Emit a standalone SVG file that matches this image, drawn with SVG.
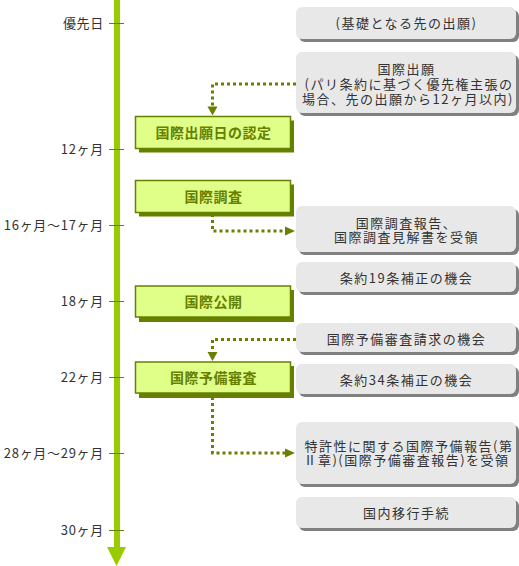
<svg xmlns="http://www.w3.org/2000/svg" width="519" height="566" viewBox="0 0 519 566">
<style>
text{font-family:"Noto Sans CJK JP","Liberation Sans",sans-serif;font-size:13px}
.lbl{fill:#333;text-anchor:end;letter-spacing:0.7px}
.gt{fill:#333;text-anchor:middle;letter-spacing:1.5px}
.nt{fill:#668000;font-weight:bold;text-anchor:middle;font-size:14px;letter-spacing:0.5px}
.gbox{fill:#e8e8e8}
.gsh{fill:#808080}
.nbox{fill:#e0ff88;stroke:#668000;stroke-width:1.5}
.nsh{fill:#668000}
.tick{stroke:#668000;stroke-width:1}
.dot{fill:none;stroke:#668000;stroke-width:3;stroke-dasharray:3 3}
.ah{fill:#668000}
</style>
<g id="timeline">
<rect x="114" y="0" width="6" height="548" fill="#99cc00"/>
<polygon points="107,547 126,547 116.5,566" fill="#99cc00"/>
<line class="tick" x1="109" y1="23.5" x2="124" y2="23.5"/>
<line class="tick" x1="109" y1="149.5" x2="124" y2="149.5"/>
<line class="tick" x1="109" y1="225.5" x2="124" y2="225.5"/>
<line class="tick" x1="109" y1="301.5" x2="124" y2="301.5"/>
<line class="tick" x1="109" y1="377.5" x2="124" y2="377.5"/>
<line class="tick" x1="109" y1="453.5" x2="124" y2="453.5"/>
<line class="tick" x1="109" y1="530.5" x2="124" y2="530.5"/>
<text class="lbl" x="104" y="28">優先日</text>
<text class="lbl" x="104" y="154">12ヶ月</text>
<text class="lbl" x="104" y="230">16ヶ月～17ヶ月</text>
<text class="lbl" x="104" y="306">18ヶ月</text>
<text class="lbl" x="104" y="382">22ヶ月</text>
<text class="lbl" x="104" y="458">28ヶ月～29ヶ月</text>
<text class="lbl" x="104" y="535">30ヶ月</text>
</g>
<g id="connectors">
<polyline class="dot" points="296,84 212.5,84 212.5,107"/>
<polygon class="ah" points="207.5,106.5 217.5,106.5 212.5,115.5"/>
<polyline class="dot" points="212.5,214 212.5,231 285,231"/>
<polygon class="ah" points="285,226.5 285,235.5 295,231"/>
<polyline class="dot" points="296,339.5 212.5,339.5 212.5,352"/>
<polygon class="ah" points="207.5,352 217.5,352 212.5,361"/>
<polyline class="dot" points="212.5,397 212.5,453 285,453"/>
<polygon class="ah" points="285,448.5 285,457.5 295,453"/>
</g>
<g id="n-kiso">
<rect class="gsh" x="299" y="10" width="220" height="32" rx="6"/>
<rect class="gbox" x="296" y="7" width="220" height="32" rx="6"/>
<text class="gt" x="406.5" y="27.5">(基礎となる先の出願)</text>
</g>
<g id="n-kokusai-shutsugan">
<rect class="gsh" x="299" y="55" width="220" height="61" rx="6"/>
<rect class="gbox" x="296" y="52" width="220" height="61" rx="6"/>
<text class="gt" y="73.5"><tspan x="406.5">国際出願</tspan><tspan x="409" dy="15">(パリ条約に基づく優先権主張の</tspan><tspan x="408" dy="15">場合、先の出願から12ヶ月以内)</tspan></text>
</g>
<g id="n-nintei">
<rect class="nsh" x="139" y="120.5" width="155" height="32"/>
<rect class="nbox" x="135.5" y="116.5" width="155" height="32"/>
<text class="nt" x="213.5" y="137.5">国際出願日の認定</text>
</g>
<g id="n-chosa">
<rect class="nsh" x="139" y="184.5" width="155" height="32"/>
<rect class="nbox" x="135.5" y="180.5" width="155" height="32"/>
<text class="nt" x="213.5" y="201.5">国際調査</text>
</g>
<g id="n-chosa-hokoku">
<rect class="gsh" x="299" y="209" width="220" height="46" rx="6"/>
<rect class="gbox" x="296" y="206" width="220" height="46" rx="6"/>
<text class="gt" y="227.5"><tspan x="406.5">国際調査報告、</tspan><tspan x="406.5" dy="14.5">国際調査見解書を受領</tspan></text>
</g>
<g id="n-19jo">
<rect class="gsh" x="299" y="265" width="220" height="30" rx="6"/>
<rect class="gbox" x="296" y="262" width="220" height="30" rx="6"/>
<text class="gt" x="406.5" y="282.5">条約19条補正の機会</text>
</g>
<g id="n-kokai">
<rect class="nsh" x="139" y="290" width="155" height="32"/>
<rect class="nbox" x="135.5" y="286" width="155" height="31"/>
<text class="nt" x="213.5" y="306.5">国際公開</text>
</g>
<g id="n-seikyu">
<rect class="gsh" x="299" y="326" width="220" height="29" rx="6"/>
<rect class="gbox" x="296" y="323" width="220" height="29" rx="6"/>
<text class="gt" x="406.5" y="343.5">国際予備審査請求の機会</text>
</g>
<g id="n-yobi">
<rect class="nsh" x="139" y="366" width="155" height="32"/>
<rect class="nbox" x="135.5" y="362" width="155" height="31"/>
<text class="nt" x="213.5" y="382.5">国際予備審査</text>
</g>
<g id="n-34jo">
<rect class="gsh" x="299" y="367" width="220" height="30" rx="6"/>
<rect class="gbox" x="296" y="364" width="220" height="30" rx="6"/>
<text class="gt" x="406.5" y="384.5">条約34条補正の機会</text>
</g>
<g id="n-hokoku">
<rect class="gsh" x="299" y="425" width="220" height="62" rx="6"/>
<rect class="gbox" x="296" y="422" width="220" height="62" rx="6"/>
<text class="gt" y="450.5"><tspan x="409">特許性に関する国際予備報告(第</tspan><tspan x="406.5" dy="14">Ⅱ章)(国際予備審査報告)を受領</tspan></text>
</g>
<g id="n-ikou">
<rect class="gsh" x="299" y="500" width="220" height="31" rx="6"/>
<rect class="gbox" x="296" y="497" width="220" height="31" rx="6"/>
<text class="gt" x="406.5" y="517.5">国内移行手続</text>
</g>
</svg>
